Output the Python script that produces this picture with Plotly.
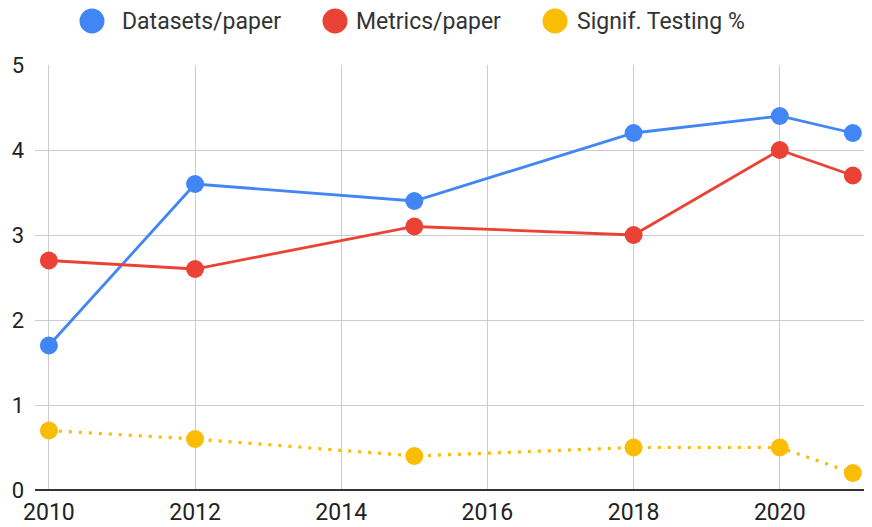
import plotly.graph_objects as go

years = [2010, 2012, 2015, 2018, 2020, 2021]
datasets_per_paper = [1.7, 3.6, 3.4, 4.2, 4.4, 4.2]
metrics_per_paper = [2.7, 2.6, 3.1, 3.0, 4.0, 3.7]
signif_testing = [0.7, 0.6, 0.4, 0.5, 0.5, 0.2]

x_ticks = [2010, 2012, 2014, 2016, 2018, 2020]

series = [
    ("Datasets/paper", datasets_per_paper, "#4285F4", "solid", 2.8),
    ("Metrics/paper", metrics_per_paper, "#EA4335", "solid", 2.8),
    ("Signif. Testing %", signif_testing, "#FBBC04", "3px,7px", 3.2),
]

W, H = 872, 527
M = {"l": 27, "r": 14, "t": 57, "b": 45}
PW = W - M["l"] - M["r"]
PH = H - M["t"] - M["b"]


def px_to_paper(px, py):
    # figure pixel -> paper coords (for the hand-made legend)
    return (px - M["l"]) / PW, (H - M["b"] - py) / PH


fig = go.Figure()
for name, vals, color, dash, lw in series:
    fig.add_trace(go.Scatter(
        x=years, y=vals, name=name, showlegend=False,
        mode="lines+markers",
        line={"color": color, "width": lw, "dash": dash},
        marker={"color": color, "size": 18},
        cliponaxis=False,
    ))

# legend drawn by hand: big dots + labels (Sheets style)
legend_pos = [(84, 120), (327, 354), (547, 575)]
legend_y = 13
for (name, _, color, _, _), (dot_x, text_x) in zip(series, legend_pos):
    cx, cy = px_to_paper(dot_x, legend_y)
    fig.add_shape(
        type="circle", xref="paper", yref="paper",
        xsizemode="pixel", ysizemode="pixel",
        xanchor=cx, yanchor=cy, x0=-12.5, x1=12.5, y0=-12.5, y1=12.5,
        fillcolor=color, line={"width": 0},
    )
    tx, ty = px_to_paper(text_x - 8, legend_y)
    fig.add_annotation(
        text=name, xref="paper", yref="paper", x=tx, y=ty,
        xanchor="left", yanchor="middle", showarrow=False,
        font={"size": 23, "color": "#333"},
    )

fig.update_layout(
    width=W, height=H,
    paper_bgcolor="white", plot_bgcolor="white",
    font={"family": "Roboto, Arial, sans-serif", "size": 22, "color": "#222"},
    margin=M,
    showlegend=False,
    xaxis={
        "range": [2009.81, 2021.18],
        "tickvals": x_ticks,
        "showgrid": True, "gridcolor": "#cccccc", "gridwidth": 1,
        "zeroline": False, "showline": False,
        "ticks": "", "automargin": False, "ticklabelstandoff": 6,
        "tickfont": {"size": 23, "color": "#222"},
    },
    yaxis={
        "range": [0, 5], "dtick": 1,
        "showgrid": True, "gridcolor": "#cccccc", "gridwidth": 1,
        "zeroline": True, "zerolinecolor": "#333333", "zerolinewidth": 2,
        "ticks": "", "ticklabelstandoff": 10, "automargin": False,
        "tickfont": {"size": 22, "color": "#222"},
    },
)

fig.write_html("out.html")
